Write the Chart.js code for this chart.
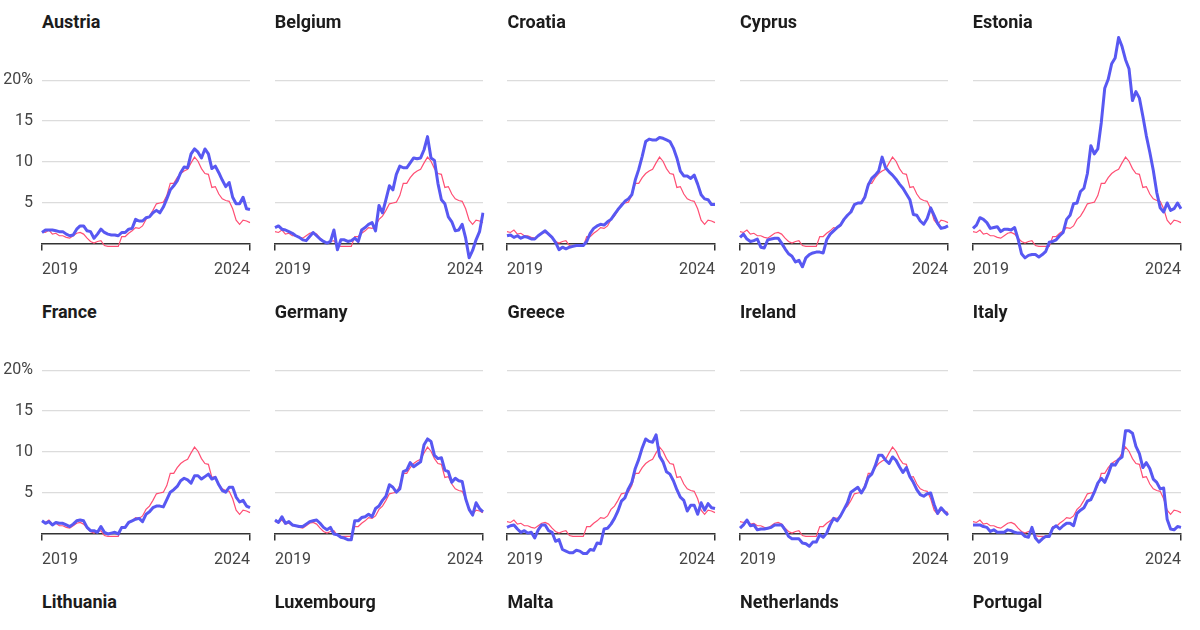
<!DOCTYPE html>
<html>
<head>
<meta charset="utf-8">
<script src="https://cdn.jsdelivr.net/npm/chart.js@4.4.1/dist/chart.umd.min.js"></script>
<style>
  html, body { margin: 0; padding: 0; background: #fff; }
  body { width: 1200px; height: 630px; overflow: hidden; position: relative; font-family: Roboto, sans-serif; }
  .panel { position: absolute; width: 260px; height: 290px; }
  .panel .title { position: absolute; left: 42px; top: 11px; margin: 0; font-size: 18px; line-height: 21px; font-weight: 700; color: #1c1c1c; white-space: nowrap; }
  .panel canvas { position: absolute; left: 0; top: 0; }
</style>
</head>
<body>
<script>
// --------------------------
// data (HICP, annual %, monthly Feb 2019 - Feb 2024)
// --------------------------
const months = [
  "2019-02","2019-03","2019-04","2019-05","2019-06","2019-07","2019-08","2019-09","2019-10","2019-11","2019-12",
  "2020-01","2020-02","2020-03","2020-04","2020-05","2020-06","2020-07","2020-08","2020-09","2020-10","2020-11","2020-12",
  "2021-01","2021-02","2021-03","2021-04","2021-05","2021-06","2021-07","2021-08","2021-09","2021-10","2021-11","2021-12",
  "2022-01","2022-02","2022-03","2022-04","2022-05","2022-06","2022-07","2022-08","2022-09","2022-10","2022-11","2022-12",
  "2023-01","2023-02","2023-03","2023-04","2023-05","2023-06","2023-07","2023-08","2023-09","2023-10","2023-11","2023-12",
  "2024-01","2024-02"
];
const xTickLabels = ["2019", "2024"];
const yTickValues = [5, 10, 15, 20];

const euroArea = [
  1.5,1.4,1.7,1.2,1.3,1.0,1.0,0.8,0.7,1.0,1.3,
  1.4,1.2,0.7,0.3,0.1,0.3,0.4,-0.2,-0.3,-0.3,-0.3,-0.3,
  0.9,0.9,1.3,1.6,2.0,1.9,2.2,3.0,3.4,4.1,4.9,5.0,
  5.1,5.9,7.4,7.4,8.1,8.6,8.9,9.1,9.9,10.6,10.1,9.2,
  8.6,8.5,6.9,7.0,6.1,5.5,5.3,5.2,4.3,2.9,2.4,2.9,
  2.8,2.6
];
const austria = [
  1.4,1.7,1.7,1.7,1.6,1.5,1.5,1.2,1.0,1.1,1.8,
  2.2,2.2,1.6,1.5,0.7,1.2,1.8,1.4,1.2,1.1,1.1,1.0,
  1.4,1.4,1.8,1.9,3.0,2.8,2.8,3.2,3.3,3.8,4.1,3.8,
  4.5,5.5,6.6,7.1,7.7,8.7,9.4,9.3,11.0,11.6,11.2,10.5,
  11.6,11.0,9.2,9.5,8.7,7.8,7.0,7.5,5.7,4.9,4.9,5.7,
  4.3,4.2
];
const belgium = [
  2.0,2.2,1.8,1.7,1.5,1.3,1.0,0.8,0.5,0.4,0.9,
  1.4,1.0,0.6,0.3,0.1,0.3,1.7,-0.7,0.5,0.5,0.3,0.4,
  0.7,0.3,1.7,2.0,2.4,2.6,1.6,4.7,3.8,5.4,7.1,6.6,
  8.5,9.5,9.3,9.3,9.9,10.5,10.4,10.5,11.5,13.1,10.5,10.2,
  7.4,5.4,4.9,3.3,2.7,1.6,1.7,2.4,0.7,-1.7,-0.8,0.5,
  1.5,3.8
];
const croatia = [
  1.0,1.1,0.8,1.0,0.7,0.9,0.8,0.6,0.6,1.0,1.3,
  1.6,1.2,0.8,0.2,-0.7,-0.4,-0.6,-0.4,-0.3,-0.2,-0.2,-0.2,
  0.3,1.3,1.9,2.2,2.4,2.3,2.7,3.0,3.6,4.2,4.7,5.2,
  5.5,6.0,7.8,9.1,10.7,12.5,12.8,12.7,12.7,13.0,12.9,12.7,
  12.5,11.7,10.5,8.9,8.3,8.3,8.0,8.4,7.3,6.0,5.5,5.4,
  4.8,4.8
];
const cyprus = [
  0.8,1.2,0.6,0.3,0.4,0.6,-0.4,-0.5,0.5,0.6,0.7,
  0.7,0.1,-0.6,-1.2,-1.5,-2.2,-2.0,-2.8,-1.7,-1.3,-1.1,-1.0,
  -1.0,-1.1,0.5,1.2,1.6,2.0,2.3,3.0,3.5,3.9,4.8,5.0,
  5.0,5.7,7.2,8.0,8.4,8.9,10.6,9.3,8.8,8.4,7.9,7.3,
  6.8,6.1,5.4,3.6,3.5,2.8,2.4,3.1,4.4,3.5,2.5,1.9,
  2.0,2.2
];
const estonia = [
  1.9,2.3,3.2,3.0,2.6,1.9,2.0,2.1,1.5,1.8,1.8,
  1.7,2.0,0.6,-1.2,-1.7,-1.4,-1.3,-1.3,-1.6,-1.3,-0.9,0.2,
  0.3,0.5,1.0,1.4,3.0,3.5,4.9,5.0,6.4,6.8,8.6,12.0,
  11.0,11.6,14.8,19.0,20.1,22.0,22.7,25.2,24.1,22.5,21.4,17.5,
  18.6,17.8,15.6,13.2,11.2,9.0,6.3,4.4,3.9,5.0,4.1,4.3,
  5.0,4.3
];
const france = [
  1.6,1.3,1.5,1.1,1.4,1.3,1.3,1.1,0.9,1.2,1.6,
  1.7,1.6,0.8,0.4,0.4,0.2,0.9,0.2,0.0,0.1,0.2,0.0,
  0.8,0.8,1.4,1.6,1.8,1.9,1.5,2.4,2.7,3.2,3.4,3.4,
  3.3,4.2,5.1,5.4,5.8,6.5,6.8,6.6,6.2,7.1,7.1,6.7,
  7.0,7.3,6.7,6.9,6.0,5.3,5.1,5.7,5.7,4.5,3.9,4.1,
  3.4,3.2
];
const germany = [
  1.7,1.4,2.1,1.3,1.5,1.1,1.0,0.9,0.9,1.2,1.5,
  1.6,1.7,1.3,0.8,0.5,0.8,0.0,-0.1,-0.4,-0.5,-0.7,-0.7,
  1.6,1.6,2.0,2.1,2.4,2.1,3.1,3.4,4.1,4.6,6.0,5.7,
  5.1,5.5,7.6,7.8,8.7,8.2,8.5,8.8,10.9,11.6,11.3,9.6,
  9.2,9.3,7.8,7.6,6.3,6.8,6.5,6.4,4.3,3.0,2.3,3.8,
  3.1,2.7
];
const greece = [
  0.8,1.0,1.1,0.6,0.2,0.4,0.1,0.2,-0.5,0.5,1.1,
  1.1,0.4,0.2,-0.9,-0.7,-1.9,-2.1,-2.3,-2.3,-2.0,-2.1,-2.4,
  -2.4,-1.9,-2.0,-1.1,-1.2,0.6,0.7,1.2,1.9,2.8,4.0,4.4,
  5.5,6.3,8.0,9.1,10.5,11.6,11.3,11.2,12.1,9.5,8.8,7.6,
  7.3,6.5,5.4,4.5,4.1,2.8,3.5,3.5,2.4,3.8,2.9,3.7,
  3.2,3.1
];
const ireland = [
  0.7,1.1,1.7,1.0,1.1,0.5,0.6,0.6,0.7,0.8,1.1,
  1.1,1.1,0.5,-0.3,-0.6,-0.6,-0.6,-1.1,-1.2,-1.5,-1.0,-1.0,
  -0.1,-0.4,0.1,1.1,1.9,1.6,2.2,3.0,3.8,5.1,5.4,5.7,
  5.0,5.7,6.9,7.3,8.3,9.6,9.6,9.0,8.6,9.4,9.0,8.2,
  7.5,8.1,7.0,6.3,5.4,4.8,4.6,4.9,5.0,3.6,2.5,3.2,
  2.7,2.3
];
const italy = [
  1.1,1.1,1.1,0.9,0.8,0.3,0.5,0.2,0.2,0.2,0.5,
  0.4,0.2,0.1,0.1,-0.3,-0.4,0.8,-0.5,-1.0,-0.6,-0.3,-0.3,
  0.7,1.0,0.6,1.0,1.3,1.3,1.0,2.5,2.9,3.2,4.0,4.2,
  5.1,6.2,6.8,6.3,7.3,8.5,8.4,9.1,9.4,12.6,12.6,12.3,
  10.7,9.8,8.1,8.7,8.0,6.7,6.3,5.5,5.6,1.8,0.6,0.5,
  0.9,0.8
];

const countryNames = [
  "Austria", "Belgium", "Croatia", "Cyprus", "Estonia",
  "France", "Germany", "Greece", "Ireland", "Italy",
  "Lithuania", "Luxembourg", "Malta", "Netherlands", "Portugal"
];
// only the first two rows are visible in the frame
const countrySeries = [austria, belgium, croatia, cyprus, estonia, france, germany, greece, ireland, italy];

// --------------------------
// look
// --------------------------
const COUNTRY_COLOR = "#5858f2";
const EURO_COLOR = "#ff4f74";
const GRID_COLOR = "#dcdcdc";
const AXIS_COLOR = "#333333";
const TEXT_COLOR = "#444444";

const COL_STEP = 232.7;
const ROW_STEP = 290;
const PANEL_W = 260;
const PANEL_H = 290;

Chart.defaults.font.family = "Roboto, sans-serif";

function makePanel(idx) {
  const col = idx % 5;
  const row = Math.floor(idx / 5);

  const div = document.createElement("div");
  div.className = "panel";
  div.style.left = (col * COL_STEP) + "px";
  div.style.top = (row * ROW_STEP) + "px";

  const title = document.createElement("div");
  title.className = "title";
  title.textContent = countryNames[idx];
  div.appendChild(title);

  document.body.appendChild(div);
  return { div, col, row };
}

function drawPanel(idx) {
  const { div, col } = makePanel(idx);
  const series = countrySeries[idx];
  if (!series) return;

  const canvas = document.createElement("canvas");
  canvas.width = PANEL_W;
  canvas.height = PANEL_H;
  canvas.style.width = PANEL_W + "px";
  canvas.style.height = PANEL_H + "px";
  div.appendChild(canvas);

  new Chart(canvas.getContext("2d"), {
    type: "line",
    data: {
      labels: months,
      datasets: [
        // dataset 0 is painted last -> country line sits on top
        { label: countryNames[idx], data: series, borderColor: COUNTRY_COLOR, borderWidth: 3, pointRadius: 0, tension: 0, borderJoinStyle: "round" },
        { label: "Euro area", data: euroArea, borderColor: EURO_COLOR, borderWidth: 1.2, pointRadius: 0, tension: 0 }
      ]
    },
    options: {
      responsive: false,
      animation: false,
      events: [],
      layout: { padding: { top: 31, bottom: 21.5, left: 0, right: 9 } },
      plugins: { legend: { display: false }, tooltip: { enabled: false } },
      scales: {
        x: {
          type: "category",
          position: { y: 0 },
          afterFit: s => { s.height = 0; },
          afterBuildTicks: s => { s.ticks = [{ value: 0 }, { value: months.length - 1 }]; },
          grid: { drawOnChartArea: false, drawTicks: true, tickLength: 6, color: AXIS_COLOR, lineWidth: 1.5 },
          border: { display: true, color: AXIS_COLOR, width: 1.5 },
          ticks: {
            autoSkip: false,
            maxRotation: 0,
            align: "inner",
            padding: 10,
            color: TEXT_COLOR,
            font: { size: 16 },
            callback: (v, i) => xTickLabels[i]
          }
        },
        y: {
          min: -3,
          max: 26,
          afterFit: s => { s.width = 42; },
          afterBuildTicks: s => { s.ticks = yTickValues.map(v => ({ value: v })); },
          grid: { drawTicks: false, color: GRID_COLOR, lineWidth: 1.2 },
          border: { display: false },
          ticks: {
            display: col === 0,
            padding: 9,
            color: TEXT_COLOR,
            font: { size: 16 },
            callback: v => (v === 20 ? "20%" : String(v))
          }
        }
      }
    }
  });
}

countryNames.forEach((_, i) => drawPanel(i));
</script>
</body>
</html>
